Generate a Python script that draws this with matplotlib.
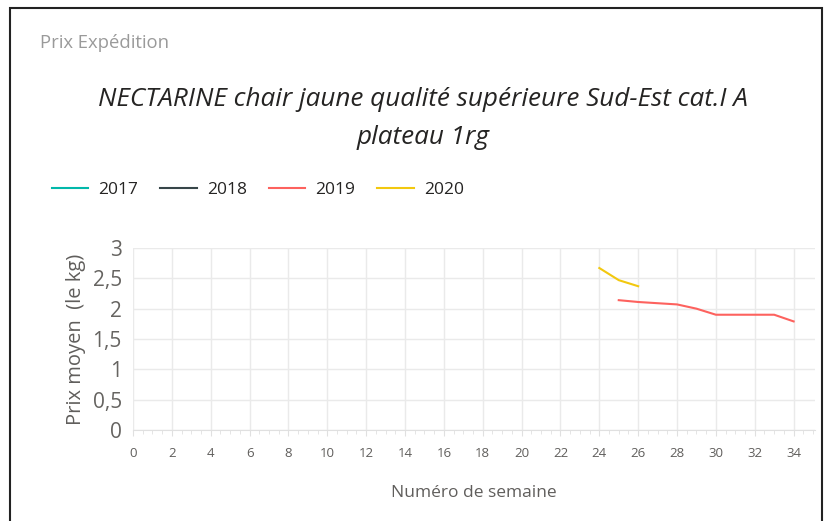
import numpy as np
import matplotlib.pyplot as plt
from matplotlib.patches import Rectangle

plt.rcParams["font.family"] = ["Open Sans", "DejaVu Sans"]

# Weekly average shipping price (per kg)
years = ["2017", "2018", "2019", "2020"]
colors = ["#01B8AA", "#374649", "#FD625E", "#F2C80F"]

weeks_2019 = [25, 26, 27, 28, 29, 30, 31, 32, 33, 34]
price_2019 = [2.14, 2.11, 2.09, 2.07, 2.00, 1.90, 1.90, 1.90, 1.90, 1.79]

weeks_2020 = [24, 25, 26]
price_2020 = [2.67, 2.47, 2.37]

series = {
    "2017": ([], []),
    "2018": ([], []),
    "2019": (weeks_2019, price_2019),
    "2020": (weeks_2020, price_2020),
}

x_ticks = list(range(0, 35, 2))
y_ticks = [0, 0.5, 1, 1.5, 2, 2.5, 3]
y_tick_labels = ["0", "0,5", "1", "1,5", "2", "2,5", "3"]


def main():
    fig = plt.figure(figsize=(8.26, 5.21), dpi=100)
    fig.patch.set_facecolor("white")

    # outer frame of the visual
    fig.patches.append(Rectangle((10 / 826, -0.01), 812 / 826, 1 - 8 / 521 + 0.01,
                                 transform=fig.transFigure, fill=False,
                                 edgecolor="#222222", linewidth=1.5))

    fig.text(40 / 826, 1 - 43 / 521, "Prix Expédition", fontsize=13.3,
             color="#9a9a9a", va="center", ha="left")
    fig.text(423 / 826, 1 - 100 / 521, "NECTARINE chair jaune qualité supérieure Sud-Est cat.I A",
             fontsize=18.8, style="italic", color="#252423", ha="center", va="center")
    fig.text(423 / 826, 1 - 137 / 521, "plateau 1rg",
             fontsize=18.8, style="italic", color="#252423", ha="center", va="center")

    ax = fig.add_axes([133 / 826, 1 - 430 / 521, (815 - 133) / 826, (430 - 248) / 521])

    for year, color in zip(years, colors):
        xs, ys = series[year]
        ax.plot(xs, ys, color=color, linewidth=1.5, label=year)

    ax.set_xlim(0, 35.1)
    ax.set_ylim(0, 3)
    ax.set_xticks(x_ticks)
    ax.set_xticks(np.arange(0, 35.1, 0.5), minor=True)
    ax.set_yticks(y_ticks)
    ax.set_yticklabels(y_tick_labels)

    ax.grid(True, which="major", color="#EAEAEA", linewidth=1)
    ax.set_axisbelow(True)
    for s in ["top", "right", "left"]:
        ax.spines[s].set_visible(False)
    ax.spines["bottom"].set_color("#E0E0E0")

    ax.tick_params(axis="y", length=0, labelsize=15, labelcolor="#666461", pad=8)
    ax.tick_params(axis="x", which="major", length=4, color="#E0E0E0",
                   labelsize=9.5, labelcolor="#605E5C", pad=8)
    ax.tick_params(axis="x", which="minor", length=3, color="#E0E0E0")

    ax.set_xlabel("Numéro de semaine", fontsize=12.5, color="#605E5C", labelpad=18)
    ax.set_ylabel("Prix moyen  (le kg)", fontsize=14.5, color="#605E5C", labelpad=5)

    handles, labels = ax.get_legend_handles_labels()
    fig.legend(handles, labels, loc="center left", bbox_to_anchor=(36 / 826, 1 - 190 / 521),
               ncol=4, frameon=False, fontsize=12.5, handlelength=2.1,
               columnspacing=1.25, handletextpad=0.6, labelcolor="#252423")

    fig.savefig("out.png", dpi=100)


if __name__ == "__main__":
    main()
